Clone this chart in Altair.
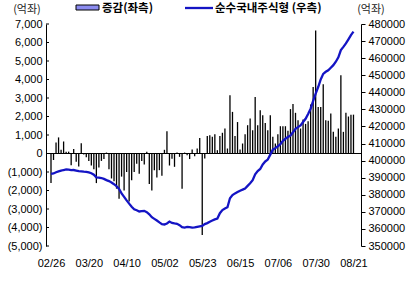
import altair as alt
import pandas as pd

# ---- data ----
tick_labels = ["02/26", "03/20", "04/10", "05/02", "05/23", "06/15", "07/06", "07/30", "08/21"]

change = [
    -1600, -350, 600, 870, 200, 650, 100, 100, -640, 250,
    -450, -700, 550, -50, -200, -400, -650, -850, -1600, -750,
    -400, -300, 50, -850, -1350, -1500, -1900, -2450, -1250, -2000,
    -1000, -2600, -1450, -1000, -550, -1100, -400, -600, 100, -1650,
    -2000, -900, -1300, -900, -1200, 200, 1200, -650, -280, -720,
    50, -180, -1900, 50, -90, -300, 220, -150, 270, 840,
    -4400, -270, 940, 990, 900, 1040, 180, 940, 1120, 1350,
    270, 3150, 2250, 940, 1700, 220, 540, 1040, 1530, 1890,
    1260, 3060, 1530, 2340, 2070, 1650, 1260, 2070, 900, 540,
    1040, 1475, 1475, 1475, 1225, 2400, 2670, 2200, 1800, 1350,
    1840, 1600, 1750, 2650, 3600, 6650, 2520, 2520, 3750, 1800,
    1770, 2160, 1170, 900, 1350, 4230, 1170, 2200, 2000, 2100,
    2100,
]

fund = [
    392200, 392500, 393200, 393700, 394100, 394500, 394800, 394700, 394400, 394500,
    394200, 393800, 393700, 393500, 393400, 393100, 392600, 391800, 390200, 390000,
    389800, 389300, 388600, 388000, 387200, 386200, 385000, 383400, 380800, 378800,
    376700, 374800, 373000, 371500, 370900, 370200, 370400, 370600, 369800, 368600,
    366900, 365900, 364900, 363800, 362800, 362600, 363200, 364300, 363500, 363200,
    363000, 362200, 361000, 360800, 361200, 361000, 360800, 360900, 361200, 361500,
    361800, 362800, 363400, 364200, 364900, 365600, 366100, 369200, 371000, 371900,
    372700, 378000, 379800, 380800, 381600, 382400, 383000, 383700, 385200, 386700,
    388500, 392000, 393900, 395100, 397800, 399500, 400600, 403500, 406400, 407300,
    408400, 409600, 411600, 412800, 413800, 414700, 416600, 418600, 419600, 420600,
    422600, 424500, 427300, 430400, 435000, 439200, 443100, 447500, 450800, 452000,
    452900, 454400, 455900, 457900, 460500, 464700, 466600, 468600, 471000, 473500,
    475500,
]

left_ticks = [-5000, -4000, -3000, -2000, -1000, 0, 1000, 2000, 3000, 4000, 5000, 6000, 7000]
right_ticks = [350000, 360000, 370000, 380000, 390000, 400000, 410000, 420000, 430000,
               440000, 450000, 460000, 470000, 480000]

legend_bar = "증감(좌측)"
legend_line = "순수국내주식형 (우측)"
unit = "(억좌)"

# ---- build ----
df = pd.DataFrame({"idx": list(range(len(change))), "change": change, "fund": fund})
label_step = 15
label_arr = "[" + ",".join("'" + t + "'" for t in tick_labels) + "]"

NUM_FONT = "Liberation Sans"
KR_FONT = "Noto Sans CJK KR"

x_scale = alt.Scale(domain=[0, 121], nice=False, zero=False)
x_axis = alt.Axis(
    values=[i * label_step for i in range(len(tick_labels))],
    labelExpr=label_arr + "[round(datum.value/" + str(label_step) + ")]",
    domain=False, ticks=False, grid=False, title=None,
    labelFont=NUM_FONT, labelFontSize=11, labelColor="#000",
    labelPadding=11, labelFlush=False, labelOverlap=False,
)

left_scale = alt.Scale(domain=[-5000, 7000], nice=False, zero=False)
left_axis = alt.Axis(
    orient="left", values=left_ticks, grid=False, title=None,
    labelExpr="datum.value < 0 ? '(' + format(-datum.value, ',') + ')' : format(datum.value, ',')",
    domainColor="#000", domainWidth=1, ticks=False, labelPadding=4,
    labelFont=NUM_FONT, labelFontSize=11, labelColor="#000",
    labelOverlap=False, labelFlush=False,
)

bars = alt.Chart(df).mark_bar(size=1.3, color="#000").encode(
    x=alt.X("idx:Q", scale=x_scale, axis=x_axis),
    y=alt.Y("change:Q", scale=left_scale, axis=left_axis),
)

zero_rule = alt.Chart(pd.DataFrame({"z": [0]})).mark_rule(color="#000", strokeWidth=1).encode(
    y=alt.Y("z:Q", scale=left_scale, axis=left_axis),
    x=alt.value(0), x2=alt.value(315),
)

inner_ticks = alt.Chart(pd.DataFrame({"t": left_ticks})).mark_rule(color="#000", strokeWidth=1).encode(
    y=alt.Y("t:Q", scale=left_scale, axis=left_axis),
    x=alt.value(0), x2=alt.value(3),
)

left_layer = alt.layer(bars, zero_rule, inner_ticks)

line = alt.Chart(df).mark_line(color="#1414C4", strokeWidth=2.3).encode(
    x=alt.X("idx:Q", scale=x_scale, axis=x_axis),
    y=alt.Y(
        "fund:Q",
        scale=alt.Scale(domain=[350000, 480000], nice=False, zero=False),
        axis=alt.Axis(
            orient="right", values=right_ticks, format="d", grid=False, title=None,
            domainColor="#000", tickColor="#000", tickSize=4, labelPadding=3,
            labelFont=NUM_FONT, labelFontSize=11, labelColor="#000",
            labelOverlap=False, labelFlush=False,
        ),
    ),
)

one = pd.DataFrame({"a": [0]})

leg_rect = alt.Chart(one).mark_rect(color="#8C8CF0", stroke="#000", strokeWidth=1).encode(
    x=alt.value(30), x2=alt.value(53), y=alt.value(-19), y2=alt.value(-14)
)
leg_rect_text = alt.Chart(pd.DataFrame({"t": [legend_bar]})).mark_text(
    font=KR_FONT, fontSize=11.5, fontWeight="bold", align="left", baseline="middle", color="#000"
).encode(text="t:N", x=alt.value(56), y=alt.value(-15))

leg_line = alt.Chart(one).mark_rule(color="#1414C4", strokeWidth=2.3).encode(
    x=alt.value(139), x2=alt.value(167), y=alt.value(-16)
)
leg_line_text = alt.Chart(pd.DataFrame({"t": [legend_line]})).mark_text(
    font=KR_FONT, fontSize=11.5, fontWeight="bold", align="left", baseline="middle", color="#000"
).encode(text="t:N", x=alt.value(169), y=alt.value(-15))

unit_left = alt.Chart(pd.DataFrame({"t": [unit]})).mark_text(
    font=KR_FONT, fontSize=11, align="center", baseline="middle", color="#222"
).encode(text="t:N", x=alt.value(-19), y=alt.value(-14))
unit_right = alt.Chart(pd.DataFrame({"t": [unit]})).mark_text(
    font=KR_FONT, fontSize=11, align="center", baseline="middle", color="#222"
).encode(text="t:N", x=alt.value(325), y=alt.value(-14))

decor = alt.layer(leg_rect, leg_rect_text, leg_line, leg_line_text, unit_left, unit_right)

chart = alt.layer(left_layer, line, decor).resolve_scale(y="independent").properties(
    width=315, height=222,
    autosize=alt.AutoSizeParams(type="none"),
    padding={"left": 46, "top": 24, "right": 51, "bottom": 37},
    background="#ffffff",
).configure_view(stroke=None).configure_axis(labelOverlap=False, labelFlush=False)

chart.save("out.html", embed_options={"renderer": "svg", "actions": False})
